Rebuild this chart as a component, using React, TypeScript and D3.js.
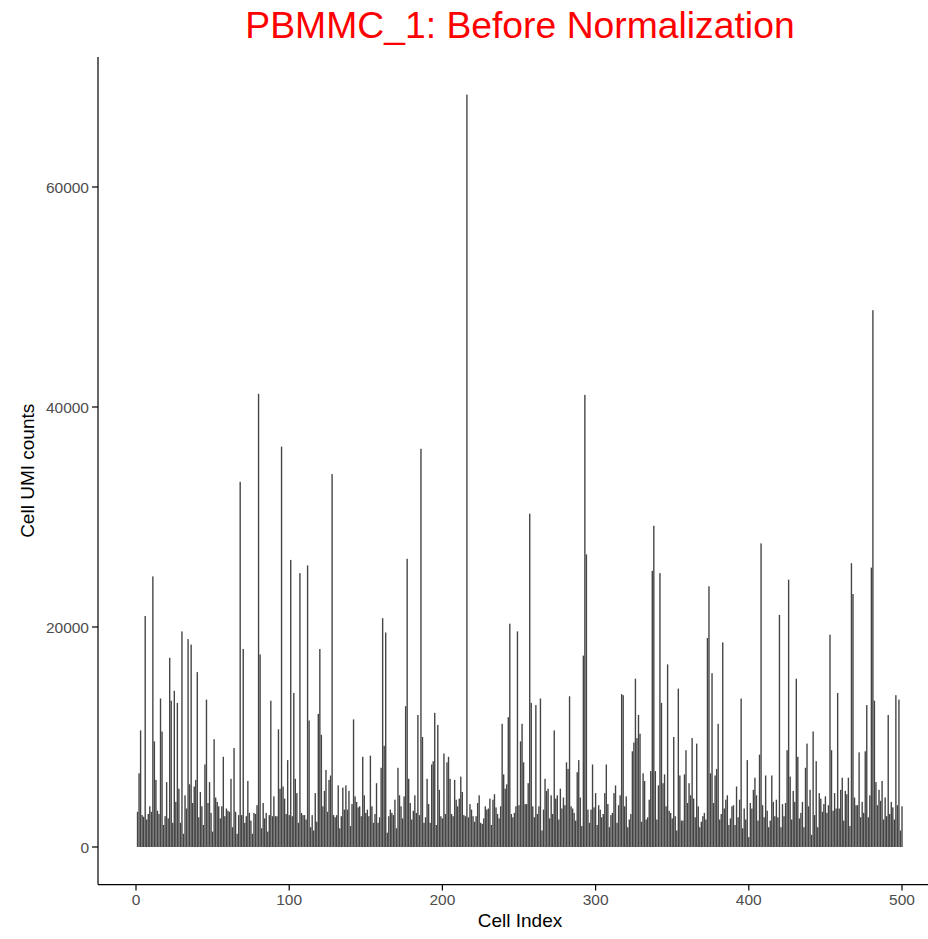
import React, { useRef, useEffect } from 'react';
import * as d3 from 'd3';

// UMI counts per cell (thousands) in runs of cells
const cells1to39 = [3.2, 6.7, 10.6, 2.9, 2.75, 21, 2.5, 3.0, 3.7, 3.2, 24.6, 9.6, 6.1, 3.3, 3.0, 13.5, 10.5, 2.0, 2.8, 5.9, 2.6, 17.2, 13.3, 2.2, 14.2, 4.1, 13.1, 5.3, 2.2, 19.6, 1.2, 4.7, 3.5, 18.9, 5.7, 18.4, 4.0, 5.5, 6.1];
const cells40to80 = [15.9, 2.7, 5.0, 3.7, 2.0, 7.5, 13.4, 4.0, 5.9, 3.1, 1.4, 9.8, 4.5, 4.1, 3.7, 2.6, 3.7, 8.2, 2.8, 3.5, 3.3, 3.2, 6.2, 1.8, 9.0, 3.2, 1.2, 2.9, 33.2, 2.9, 18.0, 2.2, 2.8, 6.0, 3.1, 2.4, 1.2, 3.1, 3.0, 3.8, 41.2];
const cells81to122 = [17.5, 1.7, 4.0, 2.6, 3.1, 1.4, 2.9, 13.3, 2.8, 4.6, 2.8, 2.8, 10.7, 5.3, 36.4, 5.5, 4.4, 3.0, 7.9, 2.9, 26.1, 2.8, 14.0, 6.2, 4.9, 2.2, 24.9, 3.1, 2.9, 2.9, 2.5, 25.6, 11.5, 1.8, 2.9, 1.5, 4.9, 2.3, 12.1, 18.0, 10.2, 3.7];
const cells123to163 = [5.1, 7.0, 3.2, 6.1, 6.5, 33.9, 2.9, 2.7, 2.9, 5.6, 1.7, 2.8, 5.4, 3.4, 5.6, 3.4, 5.1, 1.9, 3.9, 11.6, 4.6, 4.1, 3.6, 3.7, 2.8, 8.2, 4.7, 3.1, 3.4, 2.8, 8.3, 3.7, 2.2, 3.0, 5.8, 2.2, 2.7, 7.2, 20.8, 9.2, 19.5];
const cells164to206 = [1.3, 2.8, 3.4, 3.1, 2.9, 4.3, 1.7, 7.2, 4.7, 3.7, 2.6, 4.6, 12.8, 26.2, 6.2, 4.0, 2.5, 3.3, 4.7, 3.1, 12.0, 2.9, 36.2, 10.0, 2.2, 2.7, 6.2, 3.9, 2.2, 7.5, 7.8, 12.2, 2.0, 11.1, 5.2, 2.8, 2.6, 8.5, 3.0, 7.7, 8.2, 6.2, 3.0];
const cells207to247 = [2.8, 6.1, 4.3, 3.7, 4.4, 6.4, 5.0, 2.9, 2.8, 68.4, 2.7, 3.9, 3.4, 2.8, 2.3, 2.8, 4.0, 4.7, 2.2, 2.1, 2.6, 3.7, 3.4, 3.5, 4.4, 2.0, 4.3, 4.8, 3.6, 3.0, 2.6, 3.7, 11.2, 6.6, 5.3, 5.7, 11.8, 20.3, 3.0, 2.7, 3.1];
const cells248to289 = [3.7, 19.6, 3.8, 9.6, 11.2, 7.7, 3.9, 3.9, 5.8, 30.3, 13.1, 3.7, 2.7, 12.9, 3.0, 3.7, 13.5, 1.5, 3.4, 6.2, 5.1, 5.3, 2.6, 4.7, 3.0, 10.6, 4.4, 4.7, 2.5, 5.3, 3.5, 4.5, 3.8, 7.7, 7.1, 13.7, 3.7, 3.5, 3.1, 2.4, 6.8, 7.9];
const cells290to330 = [4.5, 1.9, 17.4, 41.1, 26.6, 3.4, 2.2, 3.4, 7.5, 3.6, 4.9, 2.0, 3.8, 3.4, 2.7, 3.0, 4.9, 7.5, 3.9, 1.8, 2.9, 3.1, 4.9, 5.6, 2.2, 3.8, 4.7, 13.9, 13.8, 3.7, 4.6, 1.8, 2.5, 3.0, 8.7, 9.5, 15.3, 9.9, 12.0, 10.3, 2.3];
const cells331to372 = [6.7, 6.0, 2.5, 2.7, 4.3, 6.9, 25.1, 29.2, 6.9, 2.5, 5.6, 24.9, 13.1, 5.8, 6.6, 3.7, 16.6, 3.3, 3.1, 2.6, 10.0, 2.8, 1.5, 14.4, 6.5, 2.4, 2.4, 6.6, 8.8, 4.0, 5.8, 4.7, 9.9, 4.4, 2.7, 9.4, 3.7, 1.8, 2.3, 2.8, 3.1, 2.5];
const cells373to414 = [19.0, 23.7, 6.7, 15.8, 4.0, 6.5, 7.1, 11.2, 2.5, 3.0, 18.6, 3.5, 4.3, 4.7, 2.0, 2.6, 3.7, 3.8, 2.0, 5.5, 2.7, 4.3, 13.5, 1.7, 3.5, 2.5, 7.9, 0.9, 4.0, 3.5, 5.2, 6.3, 4.7, 2.4, 8.4, 27.6, 3.8, 2.7, 6.5, 3.3, 1.8, 2.4];
const cells415to457 = [6.5, 4.1, 2.8, 4.3, 2.7, 21.1, 1.8, 3.9, 2.8, 4.0, 8.8, 24.3, 6.4, 2.5, 5.1, 4.1, 15.3, 8.2, 2.6, 3.1, 4.1, 1.8, 7.2, 9.4, 3.7, 5.2, 1.1, 10.5, 2.9, 7.8, 1.8, 4.9, 4.4, 3.2, 3.9, 4.6, 3.1, 3.8, 19.3, 8.8, 3.3, 4.9, 3.5];
const cells458to500 = [14.0, 3.5, 5.2, 6.3, 2.4, 5.1, 4.8, 6.3, 1.9, 25.8, 23.0, 4.5, 3.8, 3.8, 8.6, 2.7, 4.1, 3.1, 8.7, 12.9, 2.7, 4.7, 25.4, 48.8, 13.3, 5.9, 3.8, 5.2, 4.2, 6.0, 2.5, 4.5, 2.8, 12.0, 3.0, 4.1, 3.6, 2.5, 13.8, 3.8, 13.4, 1.5, 3.7];

const xTicks = [0, 100, 200, 300, 400, 500];
const yTicks = [0, 20000, 40000, 60000];

const font = "'Liberation Sans', Arial, sans-serif";

const BarChart = () => {
    const chartRef = useRef(null);

    useEffect(() => {
        d3.select(chartRef.current).selectAll("*").remove();

        const counts = [
            ...cells1to39, ...cells40to80, ...cells81to122, ...cells123to163,
            ...cells164to206, ...cells207to247, ...cells248to289, ...cells290to330,
            ...cells331to372, ...cells373to414, ...cells415to457, ...cells458to500,
        ].map((v, i) => ({ cell: i + 1, umi: v * 1000 }));

        const svg = d3.select(chartRef.current)
            .attr("width", 928)
            .attr("height", 939);

        const x = d3.scaleLinear().domain([0, 500]).range([136, 902]);
        const y = d3.scaleLinear().domain([0, 60000]).range([847, 187]);
        const left = 98, bottom = y(-3420), top = y(71820);

        svg.append("g")
            .selectAll("rect")
            .data(counts)
            .join("rect")
            .attr("x", d => x(d.cell - 0.45))
            .attr("width", d => x(d.cell + 0.45) - x(d.cell - 0.45))
            .attr("y", d => y(d.umi))
            .attr("height", d => y(0) - y(d.umi))
            .attr("fill", "#444444");

        // y axis
        const ya = svg.append("g").attr("transform", `translate(${left},0)`);
        ya.append("line").attr("y1", top).attr("y2", bottom).attr("stroke", "black").attr("stroke-width", 1.2);
        ya.selectAll(".tick").data(yTicks).join("g").each(function (t) {
            const g = d3.select(this);
            g.append("line").attr("x1", -6).attr("x2", 0).attr("y1", y(t)).attr("y2", y(t))
                .attr("stroke", "black").attr("stroke-width", 1.2);
            g.append("text").attr("x", -9).attr("y", y(t)).attr("dy", "0.36em")
                .attr("text-anchor", "end").attr("fill", "#4d4d4d")
                .style("font", `15.5px ${font}`).text(t);
        });

        // x axis
        const xa = svg.append("g").attr("transform", `translate(0,${bottom})`);
        xa.append("line").attr("x1", left).attr("x2", 928).attr("stroke", "black").attr("stroke-width", 1.2);
        xa.selectAll(".tick").data(xTicks).join("g").each(function (t) {
            const g = d3.select(this);
            g.append("line").attr("x1", x(t)).attr("x2", x(t)).attr("y1", 0).attr("y2", 6)
                .attr("stroke", "black").attr("stroke-width", 1.2);
            g.append("text").attr("x", x(t)).attr("y", 20)
                .attr("text-anchor", "middle").attr("fill", "#4d4d4d")
                .style("font", `15.5px ${font}`).text(t);
        });

        svg.append("text").attr("x", 520).attr("y", 927).attr("text-anchor", "middle")
            .style("font", `19px ${font}`).text("Cell Index");
        svg.append("text").attr("transform", `translate(34,${(top + bottom) / 2}) rotate(-90)`)
            .attr("text-anchor", "middle").style("font", `19px ${font}`).text("Cell UMI counts");

        svg.append("text").attr("x", 520).attr("y", 38).attr("text-anchor", "middle")
            .attr("fill", "#ff0000").style("font", `37.3px ${font}`)
            .text("PBMMC_1: Before Normalization");
    }, []);

    return <svg ref={chartRef} style={{ display: "block", position: "absolute", left: 0, top: 0 }}></svg>;
};

export default function App() {
    return <BarChart />;
}
